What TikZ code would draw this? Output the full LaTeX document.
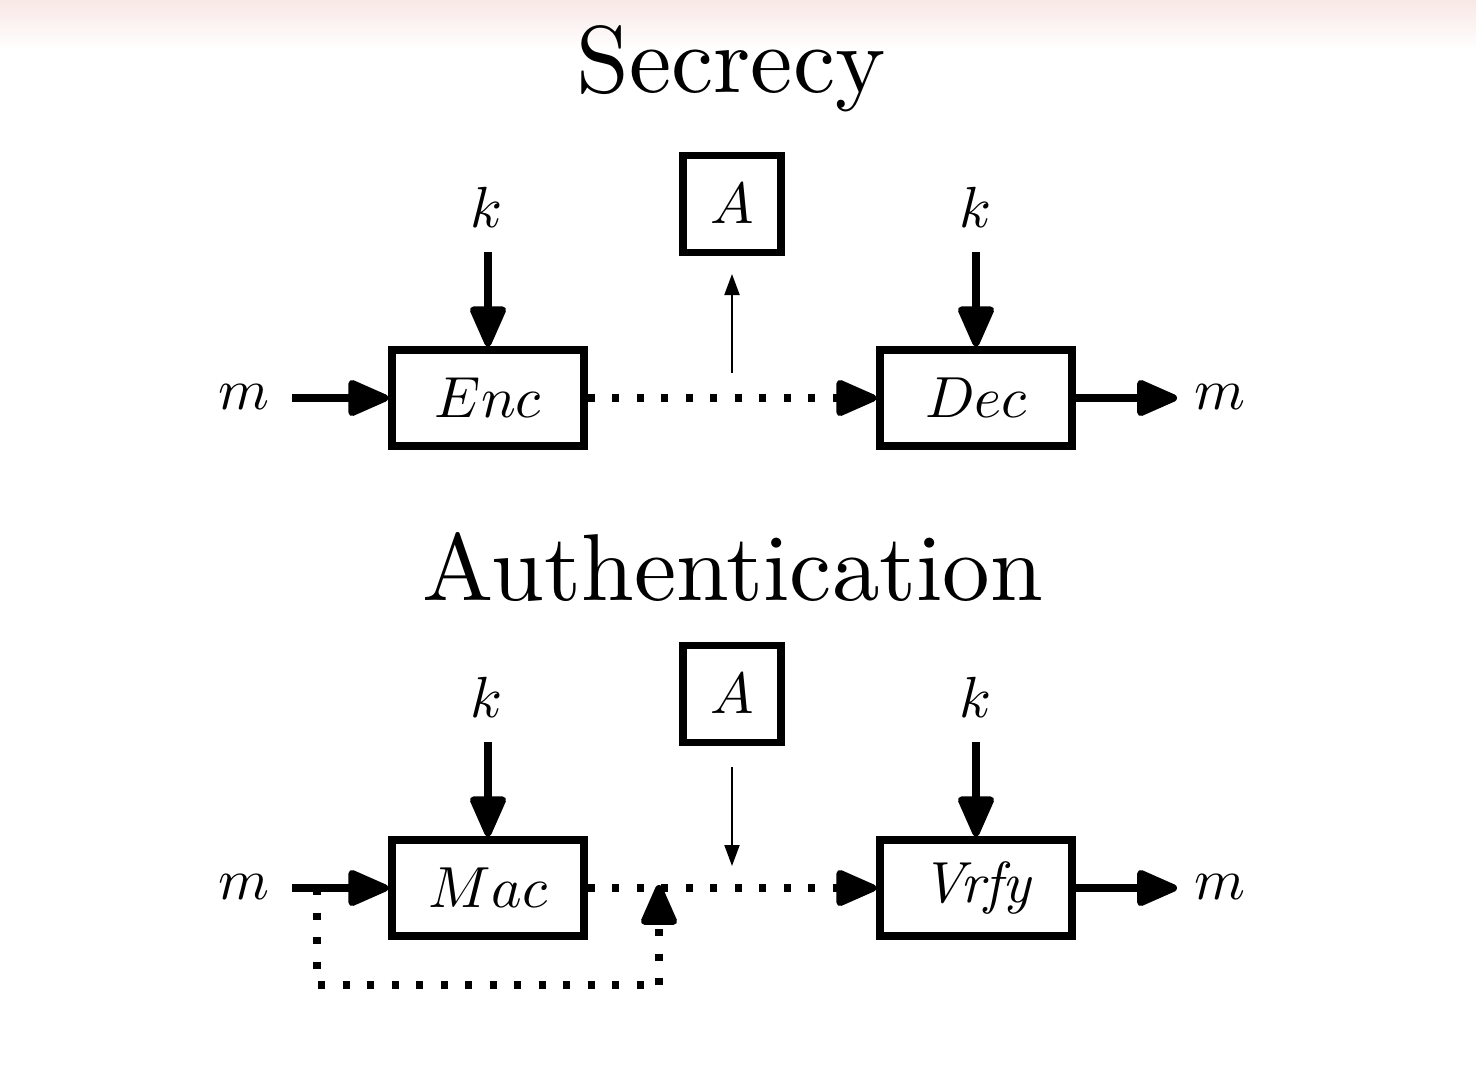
\RequirePackage{fix-cm}
\documentclass[tikz,border=0pt]{standalone}
\usepackage{fontspec}
\newfontfamily\titlefont{lmroman10-regular.otf}
\newfontfamily\itfont{lmroman10-italic.otf}
\DeclareFontShape{OML}{cmm}{m}{it}{<->cmmi10}{\skewchar\font'177}
\usetikzlibrary{arrows.meta}
\definecolor{topband}{RGB}{248,232,230}
\tikzset{
  blk/.style={draw, line width=7.5pt, minimum width=192pt, minimum height=96pt, inner sep=0pt, font=\fontsize{58}{60}\selectfont},
  abox/.style={draw, line width=7.5pt, minimum width=98pt, minimum height=97pt, inner sep=0pt, font=\fontsize{58}{60}\selectfont},
  lbl/.style={inner sep=0pt, font=\fontsize{58}{60}\selectfont},
  ttl/.style={inner sep=0pt, anchor=base, font=\titlefont\fontsize{95}{100}\selectfont},
  thick arrow/.style={line width=7.5pt, -{Triangle[length=46pt,width=38pt,round]}},
  thin arrow/.style={line width=2pt, -{Triangle[length=21pt,width=15pt]}},
  dotline/.style={line width=7.5pt, dash pattern=on 7pt off 17.5pt},
  dotarrow/.style={dotline, -{Triangle[length=46pt,width=38pt,round]}},
}
\begin{document}
\begin{tikzpicture}[x=1pt,y=-1pt]
\useasboundingbox (0,0) rectangle (1476,1072);
\shade[top color=topband, bottom color=white, draw=none] (0,0) rectangle (1476,50);

% ---- Secrecy ----
\node[ttl] (t1) at (731,92) {Secrecy};
\node[blk] (enc) at (488,398) {$Enc$};
\node[blk] (dec) at (976,398) {$Dec$};
\node[abox] (a1) at (732,204) {$A$};
\node[lbl] (k1) at (487,207) {$k$};
\node[lbl] (k2) at (976,207) {$k$};
\node[lbl] (m1) at (244,397) {$m$};
\node[lbl] (m2) at (1220,397) {$m$};
\coordinate (m1s) at (292,398);
\coordinate (m2e) at (1177,398);
\coordinate (k1s) at (488,252);
\coordinate (k2s) at (976,252);
\coordinate (t1b) at (732,373);
\coordinate (t1t) at (732,274);

\draw[thick arrow] (m1s) -- (enc.west);
\draw[thick arrow] (k1s) -- (enc.north);
\draw[thick arrow] (k2s) -- (dec.north);
\draw[thick arrow] (dec.east) -- (m2e);
\draw[dotarrow] (enc.east) -- (dec.west);
\draw[thin arrow] (t1b) -- (t1t);

% ---- Authentication ----
\node[ttl] (t2) at (733,600) {Authentication};
\node[blk] (mac) at (488,888) {$Mac$};
\node[blk] (vrfy) at (976,888) {\itfont Vrfy};
\node[abox] (a2) at (732,694) {$A$};
\node[lbl] (k3) at (487,697) {$k$};
\node[lbl] (k4) at (976,697) {$k$};
\node[lbl] (m3) at (244,887) {$m$};
\node[lbl] (m4) at (1220,887) {$m$};
\coordinate (m3s) at (292,888);
\coordinate (m4e) at (1177,888);
\coordinate (k3s) at (488,742);
\coordinate (k4s) at (976,742);
\coordinate (t2t) at (732,767);
\coordinate (t2b) at (732,866);
\coordinate (lps) at (317,888);
\coordinate (lpc) at (659,985);
\coordinate (lpe) at (659,885);

\draw[thick arrow] (m3s) -- (mac.west);
\draw[thick arrow] (k3s) -- (mac.north);
\draw[thick arrow] (k4s) -- (vrfy.north);
\draw[thick arrow] (vrfy.east) -- (m4e);
\draw[dotarrow] (mac.east) -- (vrfy.west);
\draw[thin arrow] (t2t) -- (t2b);
\draw[dotline] (lps) |- (lpc);
\draw[dotarrow] (lpc) -- (lpe);
\end{tikzpicture}
\end{document}
